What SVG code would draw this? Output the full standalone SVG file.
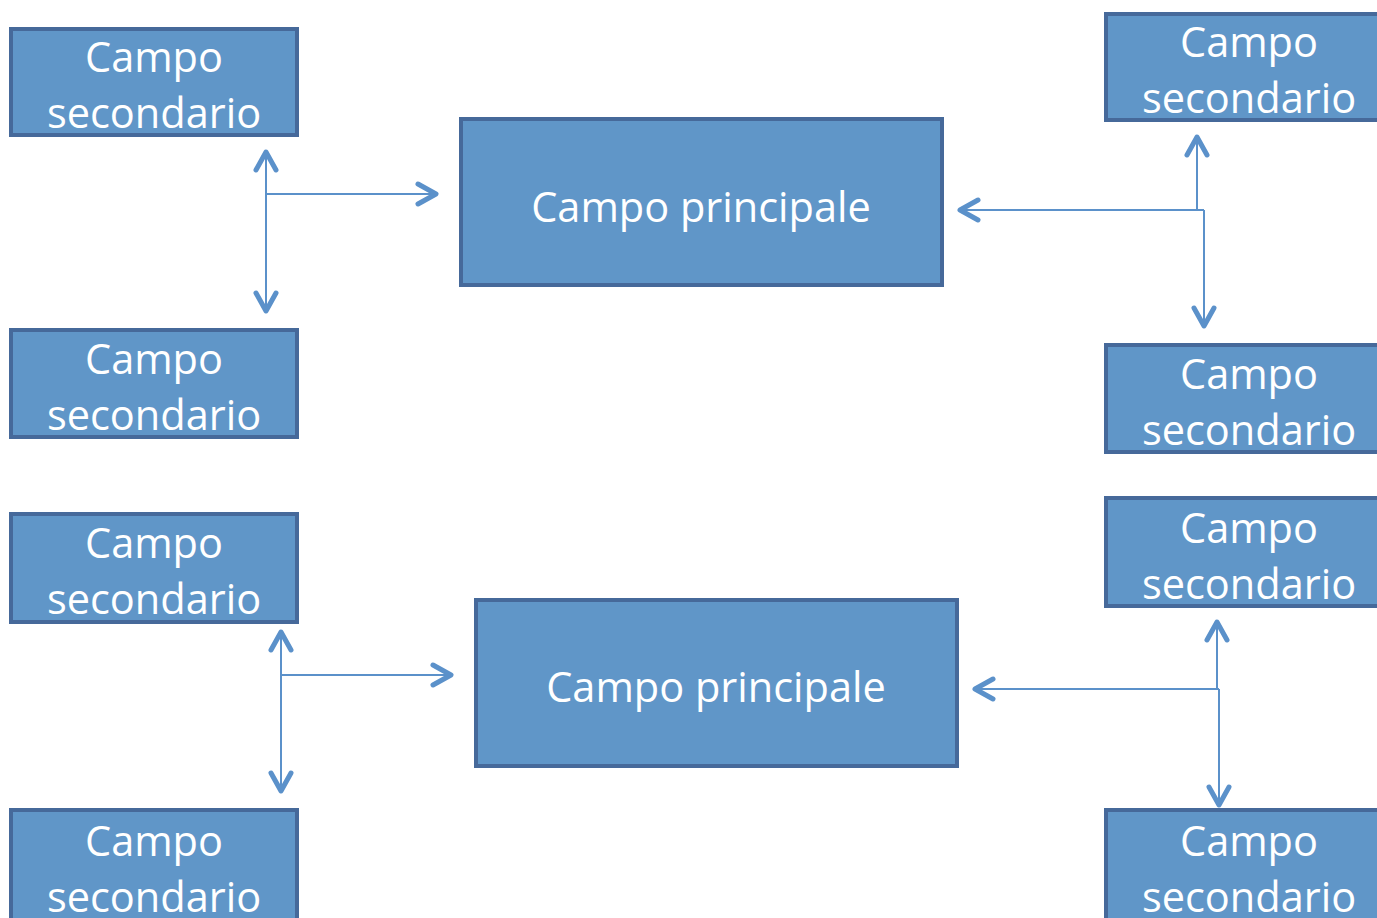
<svg xmlns="http://www.w3.org/2000/svg" width="1377" height="918" viewBox="0 0 1377 918">
<style>
.box{fill:#6096c8;stroke:#46699a;stroke-width:4}
.t{font-family:"Open Sans","Noto Sans",sans-serif;font-size:41.5px;fill:#ffffff;text-anchor:middle}
.c{fill:none;stroke:#5b91ca;stroke-width:2}
</style>
<defs>
<marker id="ah" viewBox="-25 -15 30 30" refX="0" refY="0" markerWidth="30" markerHeight="30" markerUnits="userSpaceOnUse" orient="auto-start-reverse" overflow="visible">
<path d="M-19,-10 L-1,0 L-19,10" fill="none" stroke="#5b91ca" stroke-width="5" stroke-linecap="round" stroke-linejoin="round"/>
</marker>
</defs>
<rect width="1377" height="918" fill="#ffffff"/>
<g id="connectors">
<path class="c" d="M266,194 H437" marker-end="url(#ah)"/>
<path class="c" d="M266,151 V312" marker-start="url(#ah)" marker-end="url(#ah)"/>
<path class="c" d="M1204,210 H959" marker-end="url(#ah)"/>
<path class="c" d="M1197,210 V136" marker-end="url(#ah)"/>
<path class="c" d="M1204,210 V327" marker-end="url(#ah)"/>
<path class="c" d="M281,675 H452" marker-end="url(#ah)"/>
<path class="c" d="M281,631 V792" marker-start="url(#ah)" marker-end="url(#ah)"/>
<path class="c" d="M1219,689 H974" marker-end="url(#ah)"/>
<path class="c" d="M1217,689 V621" marker-end="url(#ah)"/>
<path class="c" d="M1219,689 V806" marker-end="url(#ah)"/>
</g>
<g id="main1"><rect class="box" x="461" y="119" width="481" height="166"/><text class="t" x="701" y="222">Campo principale</text></g>
<g id="main2"><rect class="box" x="476" y="600" width="481" height="166"/><text class="t" x="716" y="702">Campo principale</text></g>
<g id="sec-l1"><rect class="box" x="11" y="29" width="286" height="106"/><text class="t" x="154" y="72">Campo</text><text class="t" x="154" y="128">secondario</text></g>
<g id="sec-l2"><rect class="box" x="11" y="330" width="286" height="107"/><text class="t" x="154" y="374">Campo</text><text class="t" x="154" y="430">secondario</text></g>
<g id="sec-l3"><rect class="box" x="11" y="514" width="286" height="108"/><text class="t" x="154" y="558">Campo</text><text class="t" x="154" y="614">secondario</text></g>
<g id="sec-l4"><rect class="box" x="11" y="810" width="286" height="112"/><text class="t" x="154" y="856">Campo</text><text class="t" x="154" y="912">secondario</text></g>
<g id="sec-r1"><rect class="box" x="1106" y="14" width="280" height="106"/><text class="t" x="1249" y="57">Campo</text><text class="t" x="1249" y="113">secondario</text></g>
<g id="sec-r2"><rect class="box" x="1106" y="345" width="280" height="107"/><text class="t" x="1249" y="389">Campo</text><text class="t" x="1249" y="445">secondario</text></g>
<g id="sec-r3"><rect class="box" x="1106" y="498" width="280" height="108"/><text class="t" x="1249" y="543">Campo</text><text class="t" x="1249" y="599">secondario</text></g>
<g id="sec-r4"><rect class="box" x="1106" y="810" width="280" height="112"/><text class="t" x="1249" y="856">Campo</text><text class="t" x="1249" y="912">secondario</text></g>
</svg>
